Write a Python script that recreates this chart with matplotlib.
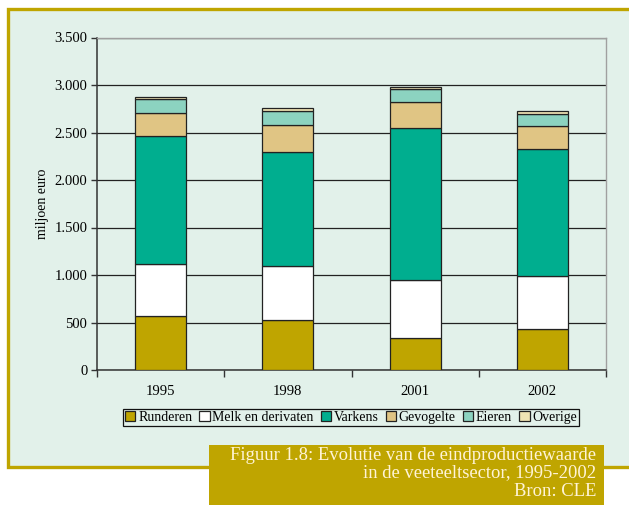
import matplotlib
matplotlib.use("Agg")
import matplotlib.pyplot as plt
from matplotlib.patches import Rectangle
from matplotlib.ticker import FuncFormatter, FixedLocator
import numpy as np

years = ["1995", "1998", "2001", "2002"]
runderen = [573, 531, 340, 427]
melk = [538, 566, 607, 566]
varkens = [1355, 1193, 1603, 1333]
gevogelte = [239, 288, 274, 245]
eieren = [151, 151, 134, 127]
overige = [18, 24, 21, 24]

series_names = ["Runderen", "Melk en derivaten", "Varkens", "Gevogelte", "Eieren", "Overige"]
series_vals = [runderen, melk, varkens, gevogelte, eieren, overige]
colors = ["#BFA500", "#FFFFFF", "#00AE8F", "#E0C584", "#8CD3C0", "#F0E4B4"]
y_ticks = [0, 500, 1000, 1500, 2000, 2500, 3000, 3500]

caption = ["Figuur 1.8: Evolutie van de eindproductiewaarde",
           "in de veeteeltsector, 1995-2002",
           "Bron: CLE"]

W, H = 629, 505
BG = "#E2F1EA"
GOLD = "#BFA500"
plt.rcParams['font.family'] = ['Liberation Serif', 'DejaVu Serif']

fig = plt.figure(figsize=(W / 100, H / 100), dpi=100)
fig.patch.set_facecolor("white")

def fx(px):
    return px / W

def fy(py):
    return 1 - py / H

# panel
fig.patches.append(Rectangle((fx(8), fy(467)), fx(640) - fx(8), fy(8.5) - fy(467),
                             transform=fig.transFigure, facecolor=BG,
                             edgecolor=GOLD, lw=2.4, zorder=-2))
# caption box
fig.patches.append(Rectangle((fx(209), 0), fx(604) - fx(209), fy(445),
                             transform=fig.transFigure, facecolor=GOLD,
                             edgecolor="none", zorder=-1))

ax = fig.add_axes([fx(97), fy(370), fx(606) - fx(97), fy(37.5) - fy(370)])
ax.set_zorder(2)
ax.set_facecolor(BG)

x = np.arange(len(years))
bottom = np.zeros(len(years))
handles = []
for name, vals, c in zip(series_names, series_vals, colors):
    b = ax.bar(x, vals, width=0.4, bottom=bottom, color=c, edgecolor="#222222",
               linewidth=0.9, label=name, zorder=3)
    handles.append(b)
    bottom += np.array(vals)

ax.set_xlim(-0.5, len(years) - 0.5)
ax.set_ylim(0, 3500)
ax.yaxis.set_major_locator(FixedLocator(y_ticks))
ax.yaxis.set_major_formatter(FuncFormatter(lambda v, p: f"{v:,.0f}".replace(",", ".")))
ax.grid(axis="y", color="#222222", linewidth=0.9, zorder=1)
ax.set_axisbelow(True)

ax.set_xticks(np.arange(-0.5, len(years), 1.0))
ax.set_xticklabels([])
ax.set_xticks(x, minor=True)
ax.set_xticklabels(years, minor=True)
ax.tick_params(axis="x", which="major", length=5, direction="out", color="#333333", width=1)
ax.tick_params(axis="x", which="minor", length=0, pad=11, labelsize=10.5)
ax.tick_params(axis="y", length=4, direction="out", color="#333333", width=1, labelsize=10.5, pad=3)

for s in ["left", "bottom"]:
    ax.spines[s].set_color("#333333")
    ax.spines[s].set_linewidth(1.1)
for s in ["top", "right"]:
    ax.spines[s].set_color("#A0A0A0")
    ax.spines[s].set_linewidth(1.0)

ax.set_ylabel("miljoen euro", fontsize=10, labelpad=4)

leg = fig.legend(handles=handles, labels=series_names, ncol=6,
                 loc="center", bbox_to_anchor=(fx(351), fy(417.5)),
                 frameon=True, fancybox=False, edgecolor="#111111",
                 facecolor=BG, framealpha=1, fontsize=10,
                 handlelength=0.75, handleheight=0.75, handletextpad=0.2,
                 columnspacing=0.5, borderpad=0.15, borderaxespad=0)
leg.get_frame().set_linewidth(0.9)
leg.set_zorder(5)

ys = [455, 473, 492]
for t, yy in zip(caption, ys):
    fig.text(fx(596), fy(yy), t, ha="right", va="center", fontsize=13.4,
             color="#FFF4D6", zorder=5)

fig.savefig("out.png", dpi=100, facecolor=fig.get_facecolor())
